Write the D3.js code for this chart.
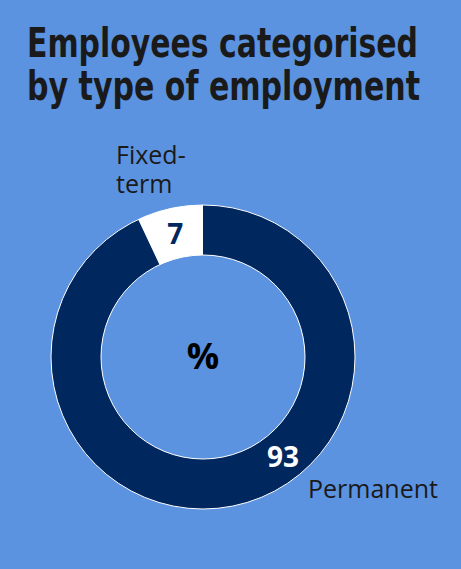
<!DOCTYPE html>
<html lang="en">
<head>
  <meta charset="UTF-8">
  <title>Employees categorised by type of employment</title>
  <script src="https://d3js.org/d3.v7.min.js"></script>
  <style>
    html, body { margin: 0; padding: 0; background: #5b93e0; overflow: hidden; }
    svg { display: block; }
    .title { font-family: "DejaVu Sans Condensed", "Liberation Sans Narrow", sans-serif; font-weight: 700; font-size: 40px; fill: #1a1a1a; }
    .label { font-family: "Open Sans", "Noto Sans", sans-serif; font-size: 25px; fill: #1a1a1a; }
    .value { font-family: "Open Sans", "Noto Sans", sans-serif; font-weight: 700; font-size: 28px; }
  </style>
</head>
<body>
  <svg id="chart" width="461" height="569"></svg>
  <script>
  // data
  const categories = ["Permanent", "Fixed-term"];
  const values = [93, 7];
  const colors = ["#00275e", "#ffffff"];
  const valueColors = ["#ffffff", "#00275e"];

  const W = 461, H = 569;
  const cx = 203, cy = 357;
  const outerR = 152, innerR = 102;

  const svg = d3.select("#chart");
  svg.append("rect").attr("width", W).attr("height", H).attr("fill", "#5b93e0");

  // title, squeezed to the reference width
  const title = svg.append("text").attr("class", "title");
  title.append("tspan").attr("x", 27).attr("y", 57)
    .attr("textLength", 391).attr("lengthAdjust", "spacingAndGlyphs")
    .text("Employees categorised");
  title.append("tspan").attr("x", 27).attr("y", 100)
    .attr("textLength", 393).attr("lengthAdjust", "spacingAndGlyphs")
    .text("by type of employment");

  const pie = d3.pie().sort(null).value(d => d.value);
  const arcs = pie(categories.map((c, i) => ({ name: c, value: values[i], i })));

  const arc = d3.arc().innerRadius(innerR).outerRadius(outerR);

  const g = svg.append("g").attr("transform", `translate(${cx},${cy})`);

  g.selectAll("path.slice")
    .data(arcs)
    .join("path")
    .attr("class", "slice")
    .attr("d", arc)
    .attr("fill", d => colors[d.data.i]);

  // thin white rims
  g.append("circle").attr("r", outerR).attr("fill", "none").attr("stroke", "#ffffff").attr("stroke-width", 1);
  g.append("circle").attr("r", innerR).attr("fill", "none").attr("stroke", "#ffffff").attr("stroke-width", 1);

  // value labels: the big slice label sits lower-right, not at its centroid
  const midR = (innerR + outerR) / 2;
  const labelAngle = d => d.data.i === 0 ? 141 * Math.PI / 180 : (d.startAngle + d.endAngle) / 2;

  g.selectAll("text.value")
    .data(arcs)
    .join("text")
    .attr("class", "value")
    .attr("text-anchor", "middle")
    .attr("dominant-baseline", "central")
    .attr("x", d => midR * Math.sin(labelAngle(d)))
    .attr("y", d => -midR * Math.cos(labelAngle(d)))
    .attr("fill", d => valueColors[d.data.i])
    .text(d => d.data.value);

  // centre unit
  g.append("text")
    .attr("text-anchor", "middle")
    .attr("dominant-baseline", "central")
    .attr("font-family", "'Open Sans', sans-serif")
    .attr("font-weight", 700)
    .attr("font-size", 36)
    .attr("fill", "#000")
    .attr("y", -2)
    .text("%");

  // category labels
  const fixed = svg.append("text").attr("class", "label");
  fixed.append("tspan").attr("x", 116).attr("y", 164).text("Fixed-");
  fixed.append("tspan").attr("x", 116).attr("y", 193).text("term");

  svg.append("text").attr("class", "label")
    .attr("x", 308).attr("y", 498)
    .text(categories[0]);
  </script>
</body>
</html>
